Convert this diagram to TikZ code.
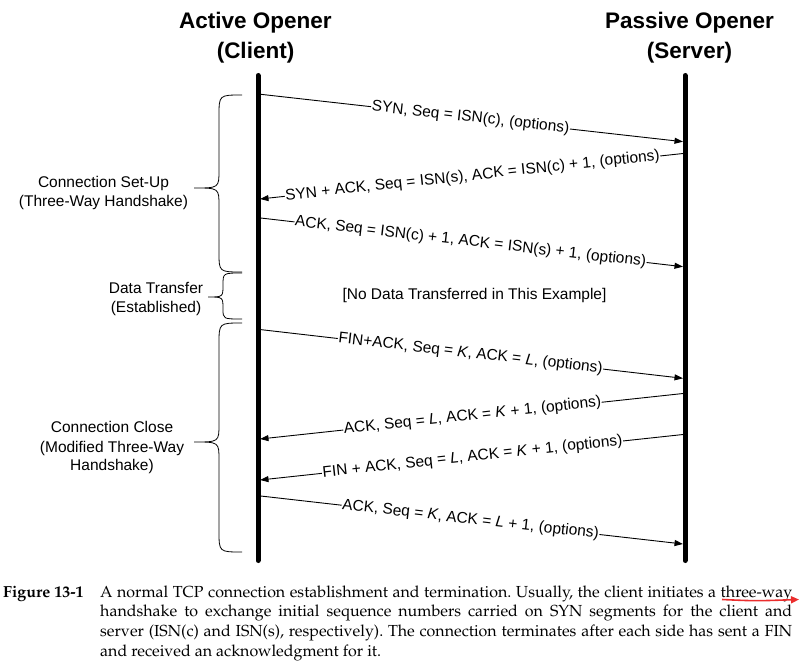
\documentclass[tikz,border=0pt]{standalone}
\usepackage[T1]{fontenc}
\usepackage{fontspec}
\usetikzlibrary{arrows.meta}
\newfontfamily\arialfont{Liberation Sans}
\newcommand\headfont{\arialfont\bfseries\fontsize{22.5}{27}\selectfont}
\newcommand\labfont{\arialfont\fontsize{15.5}{19}\selectfont}
\newcommand\capfont{\fontencoding{T1}\fontfamily{ppl}\fontseries{m}\fontshape{n}\fontsize{16}{19.7}\selectfont\frenchspacing}
\definecolor{annot}{RGB}{235,45,45}
\begin{document}
\begin{tikzpicture}[x=1pt,y=-1pt,
  lifeline/.style={line width=5pt,line cap=round},
  msg/.style={line width=0.9pt,-{Triangle[length=8.5pt,width=6pt]}},
  msglabel/.style={midway,sloped,fill=white,inner sep=0.6pt,font=\labfont},
  bracepath/.style={line width=0.8pt},
  head/.style={font=\headfont,anchor=base,inner sep=0},
  sidelab/.style={font=\labfont,anchor=base,inner sep=0},
]
\path[use as bounding box] (0,0) rectangle (801,666);

% headers
\node[head] (act1) at (255.5,28.3) {Active Opener};
\node[head] (act2) at (255.5,58.3) {(Client)};
\node[head] (pas1) at (689.5,28.3) {Passive Opener};
\node[head] (pas2) at (689.5,58.3) {(Server)};

% lifelines
\coordinate (ctop) at (258,75.5);
\coordinate (cbot) at (258,560.5);
\coordinate (stop) at (685,75.5);
\coordinate (sbot) at (685,560.5);
\draw[lifeline] (ctop) -- (cbot);
\draw[lifeline] (stop) -- (sbot);

% message end points
\coordinate (m1s) at (258,94);    \coordinate (m1e) at (683,141.7);
\coordinate (m2s) at (685,153.3); \coordinate (m2e) at (260,199);
\coordinate (m3s) at (258,217.7); \coordinate (m3e) at (683,266.7);
\coordinate (m4s) at (258,329.3); \coordinate (m4e) at (683,378.3);
\coordinate (m5s) at (685,393.3); \coordinate (m5e) at (260,439);
\coordinate (m6s) at (685,434.3); \coordinate (m6e) at (260,480);
\coordinate (m7s) at (258,495.7); \coordinate (m7e) at (683,544);

\draw[msg] (m1s) -- node[msglabel] (l1) {SYN, Seq = ISN(c), (options)} (m1e);
\draw[msg] (m2s) -- node[msglabel] (l2) {SYN + ACK, Seq = ISN(s), ACK = ISN(c) + 1, (options)} (m2e);
\draw[msg] (m3s) -- node[msglabel] (l3) {ACK, Seq = ISN(c) + 1, ACK = ISN(s) + 1, (options)} (m3e);
\draw[msg] (m4s) -- node[msglabel] (l4) {FIN+ACK, Seq = \textit{K}, ACK = \textit{L}, (options)} (m4e);
\draw[msg] (m5s) -- node[msglabel] (l5) {ACK, Seq = \textit{L}, ACK = \textit{K} + 1, (options)} (m5e);
\draw[msg] (m6s) -- node[msglabel] (l6) {FIN + ACK, Seq = \textit{L}, ACK = \textit{K} + 1, (options)} (m6e);
\draw[msg] (m7s) -- node[msglabel] (l7) {ACK, Seq = \textit{K}, ACK = \textit{L} + 1, (options)} (m7e);

\node[font=\labfont,inner sep=0] (nodata) at (474.5,295) {[No Data Transferred in This Example]};

% braces
\draw[bracepath] (242,95) .. controls (219,95) .. (219,116) -- (219,170)
  .. controls (219,188) .. (194,188) .. controls (219,188) .. (219,206)
  -- (219,252) .. controls (219,272) .. (242,272);
\draw[bracepath] (242,273) .. controls (223,273) .. (223,285)
  .. controls (223,297) .. (208,297) .. controls (223,297) .. (223,309)
  .. controls (223,319) .. (242,319);
\draw[bracepath] (242,323) .. controls (219,323) .. (219,344) -- (219,424)
  .. controls (219,442) .. (194,442) .. controls (219,442) .. (219,460)
  -- (219,531) .. controls (219,552) .. (242,552);

% brace labels
\node[sidelab] (su1) at (103.5,187.3) {Connection Set-Up};
\node[sidelab] (su2) at (103.5,206.7) {(Three-Way Handshake)};
\node[sidelab] (dt1) at (156,293.3) {Data Transfer};
\node[sidelab] (dt2) at (156,312.3) {(Established)};
\node[sidelab] (cc1) at (112,432.7) {Connection Close};
\node[sidelab] (cc2) at (112,452.3) {(Modified Three-Way};
\node[sidelab] (cc3) at (112,470.7) {Handshake)};

% caption
\node[anchor=base west,inner sep=0,font=\capfont\bfseries] (fig) at (3,597) {Figure 13-1};
\node[anchor=base west,inner sep=0,font=\capfont] (cap) at (100,597) {\vtop{\hsize=692pt
\hbox to\hsize{A normal TCP connection establishment and termination. Usually, the client initiates a three-way}
\hbox to\hsize{handshake to exchange initial sequence numbers carried on SYN segments for the client and}
\hbox to\hsize{server (ISN(c) and ISN(s), respectively). The connection terminates after each side has sent a FIN}
\hbox{and received an acknowledgment for it.}}};

% red annotation arrow
\coordinate (ra1) at (722,599.5);
\coordinate (ra2) at (799,599.5);
\draw[annot,line width=1.6pt,-{Triangle[length=8pt,width=7pt]}] (ra1) .. controls (755,601) .. (ra2);
\end{tikzpicture}
\end{document}
